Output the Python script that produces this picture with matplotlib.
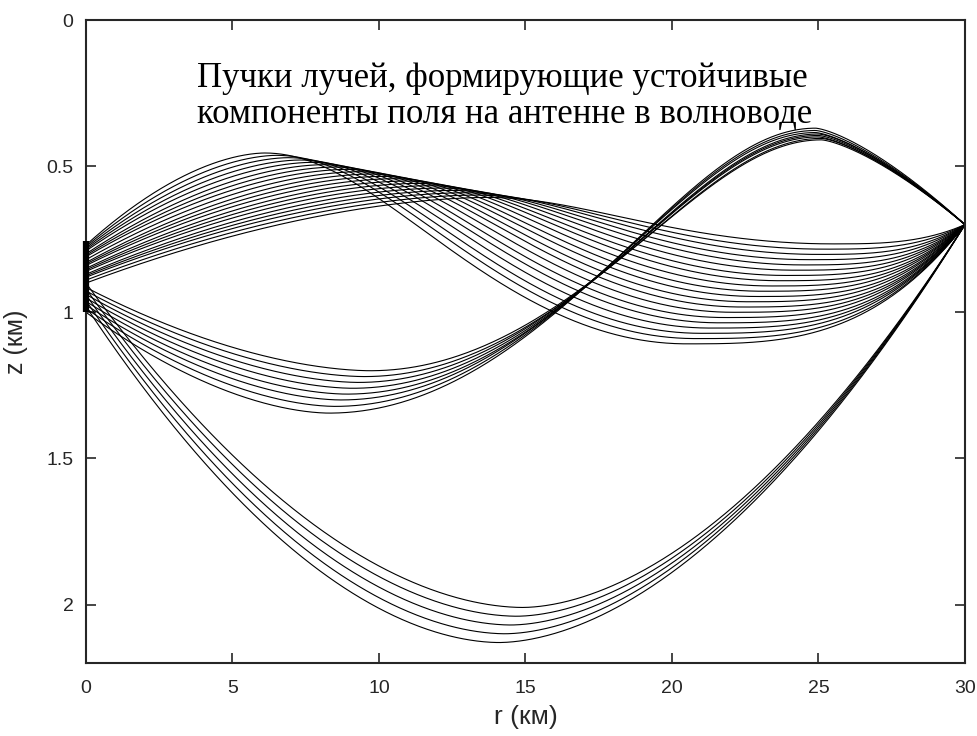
import numpy as np
import matplotlib
matplotlib.use("Agg")
import matplotlib.pyplot as plt

plt.rcParams["font.family"] = ["Liberation Sans", "DejaVu Sans"]

# receiving point at the far end and the vertical antenna at r = 0 (km)
SOURCE_R = 30.0
SOURCE_Z = 0.70
ANTENNA_Z = [0.755, 1.0]

TITLE_LINES = ["Пучки лучей, формирующие устойчивые",
               "компоненты поля на антенне в волноводе"]

# bundle 1: up first, then down, then up to the source
b1_z0 = [0.77, 0.775, 0.78, 0.785, 0.79, 0.80, 0.805, 0.81, 0.82, 0.83,
         0.835, 0.84, 0.85, 0.855, 0.86, 0.87, 0.875, 0.88, 0.89, 0.90]
b1_r_top = [6.1, 6.5, 6.9, 7.3, 7.7, 8.1, 8.5, 8.9, 9.3, 9.7,
            10.1, 10.5, 10.9, 11.3, 11.7, 12.1, 12.5, 12.9, 13.3, 13.7]
b1_z_top = [0.455, 0.463, 0.471, 0.479, 0.487, 0.495, 0.503, 0.511, 0.519, 0.527,
            0.535, 0.543, 0.551, 0.559, 0.567, 0.575, 0.583, 0.591, 0.599, 0.607]
b1_r_bot = [20.5, 20.8, 21.0, 21.3, 21.6, 21.8, 22.1, 22.4, 22.6, 22.9,
            23.1, 23.4, 23.7, 23.9, 24.2, 24.5, 24.7, 25.0, 25.2, 25.5]
b1_z_bot = [1.108, 1.090, 1.072, 1.054, 1.036, 1.018, 1.000, 0.982, 0.964, 0.946,
            0.928, 0.910, 0.892, 0.874, 0.856, 0.838, 0.820, 0.802, 0.784, 0.766]

# bundle 2: down first, then up, then down to the source
b2_z0 = [0.915, 0.927, 0.939, 0.951, 0.963, 0.975, 0.987, 1.0]
b2_r_bot = [9.7, 9.5, 9.3, 9.1, 8.9, 8.7, 8.5, 8.3]
b2_z_bot = [1.200, 1.220, 1.240, 1.260, 1.280, 1.300, 1.322, 1.345]
b2_r_top = [25.1, 25.1, 25.0, 25.0, 25.0, 24.9, 24.9, 24.9]
b2_z_top = [0.410, 0.405, 0.400, 0.395, 0.390, 0.385, 0.378, 0.370]

# bundle 3: deep rays with a single lower turning point
b3_z0 = [0.90, 0.92, 0.94, 0.96, 0.98]
b3_r_bot = [14.9, 14.7, 14.5, 14.3, 14.1]
b3_z_bot = [2.01, 2.04, 2.07, 2.10, 2.13]

SKEW = 0.2  # shallow turning points are sharper than deep ones
START_POW = {1: 1.75, 2: 1.75, 3: 1.85}
END_POW = {1: 3.0, 2: 1.4, 3: 1.8}


def between_turns(r1, z1, r2, z2, n=300):
    e = SKEW if z2 > z1 else -SKEW
    theta = np.linspace(0.0, np.pi, n)
    fr = (theta - e * np.sin(theta)) / np.pi
    fz = (1 - np.cos(theta)) / 2
    return r1 + (r2 - r1) * fr, z1 + (z2 - z1) * fz


def from_turn(r_turn, z_turn, r_end, z_end, power, n=300):
    fr = np.linspace(0.0, 1.0, n)
    return r_turn + (r_end - r_turn) * fr, z_turn + (z_end - z_turn) * fr ** power


def ray_path(z_start, turns, bundle):
    r, z = from_turn(*turns[0], 0.0, z_start, START_POW[bundle])
    rs, zs = [r[::-1]], [z[::-1]]
    for (r1, z1), (r2, z2) in zip(turns[:-1], turns[1:]):
        r, z = between_turns(r1, z1, r2, z2)
        rs.append(r)
        zs.append(z)
    r, z = from_turn(*turns[-1], SOURCE_R, SOURCE_Z, END_POW[bundle])
    rs.append(r)
    zs.append(z)
    return np.concatenate(rs), np.concatenate(zs)


fig = plt.figure(figsize=(9.78, 7.36), dpi=100)
ax = fig.add_axes([0.0879, 0.0992, 0.8988, 0.8736])

ray_kw = dict(color="black", linewidth=0.8)
for i in range(len(b1_z0)):
    turns = [(b1_r_top[i], b1_z_top[i]), (b1_r_bot[i], b1_z_bot[i])]
    r, z = ray_path(b1_z0[i], turns, 1)
    ax.plot(r, z, **ray_kw)
for i in range(len(b2_z0)):
    turns = [(b2_r_bot[i], b2_z_bot[i]), (b2_r_top[i], b2_z_top[i])]
    r, z = ray_path(b2_z0[i], turns, 2)
    ax.plot(r, z, **ray_kw)
for i in range(len(b3_z0)):
    r, z = ray_path(b3_z0[i], [(b3_r_bot[i], b3_z_bot[i])], 3)
    ax.plot(r, z, **ray_kw)

ax.plot([0, 0], ANTENNA_Z, color="black", linewidth=4.5, solid_capstyle="butt",
        clip_on=False, zorder=5)

for line, z_base in zip(TITLE_LINES, [0.229, 0.352]):
    ax.text(3.8, z_base, line, family=["Liberation Serif", "DejaVu Serif"],
            fontsize=25, ha="left", va="baseline")

ax.set_xlim(0, 30)
ax.set_ylim(2.2, 0)
ax.set_xticks([0, 5, 10, 15, 20, 25, 30])
ax.set_yticks([0, 0.5, 1, 1.5, 2])
ax.set_yticklabels(["0", "0.5", "1", "1.5", "2"])
ax.tick_params(direction="in", top=True, right=True, length=7, width=1.2,
               labelsize=14, colors="#262626")
ax.tick_params(axis="x", pad=12)
ax.tick_params(axis="y", pad=9)
for spine in ax.spines.values():
    spine.set_linewidth(1.5)
    spine.set_color("#262626")
ax.set_xlabel("r (км)", fontsize=19, color="#262626", labelpad=6)
ax.set_ylabel("z (км)", fontsize=18, color="#262626", labelpad=13)

fig.savefig("out.png", dpi=100)
